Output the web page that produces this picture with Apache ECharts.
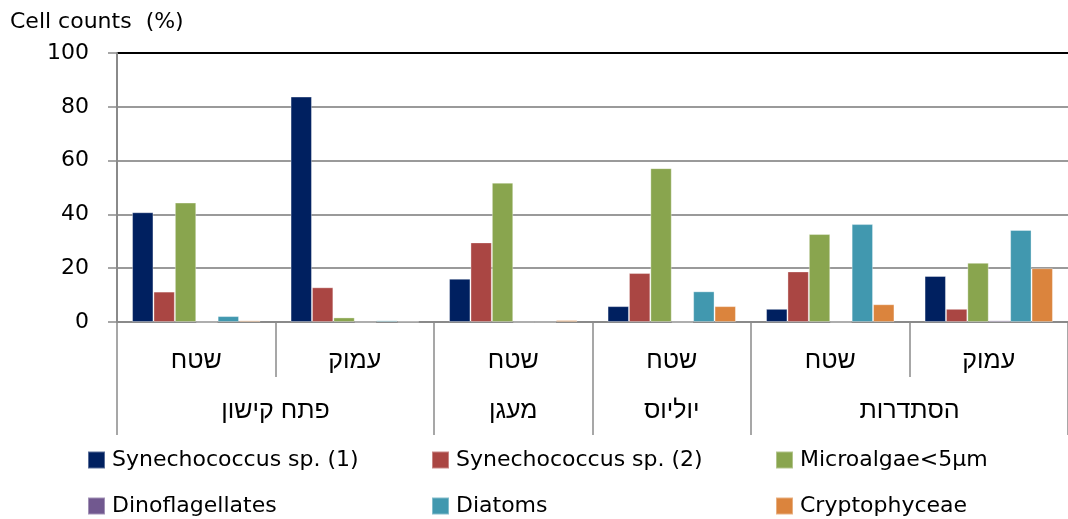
<!DOCTYPE html>
<html>
<head>
<meta charset="utf-8">
<script src="https://cdn.jsdelivr.net/npm/echarts@6/dist/echarts.min.js"></script>
<style>
html,body{margin:0;padding:0;background:#fff;}
#chart{width:1068px;height:519px;}
</style>
</head>
<body>
<div id="chart"></div>
<script>
// ---- data ----
const categories = ['שטח','עמוק','שטח','שטח','שטח','עמוק'];
const groupLabels = ['פתח קישון','מעגן','יוליוס','הסתדרות'];
const groupSpans = [2,1,1,2];
const seriesNames = ['Synechococcus sp. (1)','Synechococcus sp. (2)','Microalgae<5µm','Dinoflagellates','Diatoms','Cryptophyceae'];
const syn1   = [40.8, 83.8, 16.1, 5.9, 4.9, 17.1];
const syn2   = [11.3, 12.9, 29.6, 18.2, 18.8, 4.9];
const micro  = [44.4, 1.7, 51.8, 57.2, 32.7, 22.0];
const dino   = [0, 0, 0, 0, 0, 0.6];
const diatom = [2.2, 0.6, 0, 11.4, 36.4, 34.2];
const crypto = [0.6, 0.1, 0.7, 5.9, 6.6, 20.0];
const yTicks = [0,20,40,60,80,100];

const colors = ['#002060','#AA4643','#89A54E','#71588F','#4198AF','#DB843D'];
const values = [syn1, syn2, micro, dino, diatom, crypto];

// group boundaries & centers (in category units)
const bounds = [0];
groupSpans.forEach(s => bounds.push(bounds[bounds.length-1] + s));
const centers = groupSpans.map((s,i) => bounds[i] + s/2);

const FONT = '"DejaVu Sans", "Liberation Sans", sans-serif';
const HFONT = '"Liberation Sans", "DejaVu Sans", sans-serif';

// legend layout: 3 columns x 2 rows
const legendLefts = [82, 426, 770];
const legendTops = [444, 490];

const chart = echarts.init(document.getElementById('chart'), null, {renderer:'canvas'});
const legends = seriesNames.map((n, i) => ({
  left: legendLefts[i % 3], top: legendTops[Math.floor(i / 3)],
  orient: 'horizontal', itemGap: 0,
  itemWidth: 17, itemHeight: 17, icon: 'rect',
  data: [n],
  textStyle: {fontSize: 22, color: '#000', fontFamily: FONT, padding: [0,0,0,2]}
}));
chart.setOption({
  animation: false,
  title: {
    text: 'Cell counts  (%)', left: 5, top: 6,
    textStyle: {fontSize: 22, fontWeight: 'normal', color: '#000', fontFamily: FONT}
  },
  color: colors,
  legend: legends,
  grid: {left: 117, right: -3, top: 53, bottom: 197, containLabel: false},
  xAxis: [
    {
      type: 'category', data: categories, position: 'bottom',
      axisLine: {lineStyle: {color: '#8a8a8a', width: 2}},
      axisTick: {show: true, length: 55, lineStyle: {color: '#8a8a8a', width: 1.5}},
      axisLabel: {fontSize: 25, color: '#000', margin: 27, fontFamily: HFONT}
    },
    {
      type: 'value', min: 0, max: bounds[bounds.length-1], position: 'bottom',
      axisLine: {show: false},
      splitLine: {show: false},
      axisTick: {show: true, customValues: bounds, length: 113, lineStyle: {color: '#8a8a8a', width: 1.5}},
      axisLabel: {
        customValues: centers, fontSize: 25, color: '#000', margin: 77, fontFamily: HFONT,
        formatter: v => { const i = centers.indexOf(v); return i >= 0 ? groupLabels[i] : ''; }
      }
    }
  ],
  yAxis: {
    type: 'value', min: 0, max: 100, interval: 20,
    axisLine: {show: true, lineStyle: {color: '#8a8a8a', width: 2}},
    axisTick: {show: true, length: 9, lineStyle: {color: '#8a8a8a', width: 1.5}},
    axisLabel: {fontSize: 22, color: '#000', margin: 28, fontFamily: FONT,
      formatter: v => yTicks.includes(v) ? String(v) : ''},
    splitLine: {show: true, lineStyle: {color: ['#8a8a8a','#9a9a9a','#9a9a9a','#9a9a9a','#9a9a9a','#000'], width: 2}}
  },
  series: seriesNames.map((n, i) => ({
    name: n, type: 'bar', xAxisIndex: 0, data: values[i],
    barGap: '0%', barCategoryGap: '19%',
    itemStyle: {color: colors[i], borderColor: 'rgba(255,255,255,0.35)', borderWidth: 1}
  }))
});
</script>
</body>
</html>
